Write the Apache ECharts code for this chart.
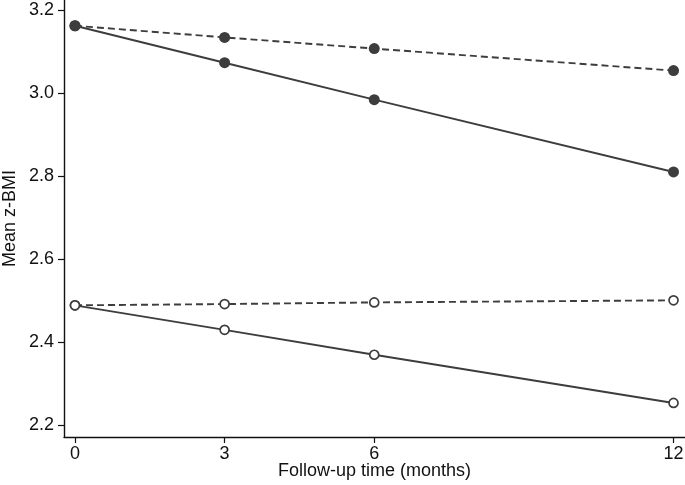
<!DOCTYPE html>
<html><head><meta charset="utf-8">
<script src="https://cdn.jsdelivr.net/npm/echarts@6/dist/echarts.min.js"></script>
<style>html,body{margin:0;padding:0;background:#fff}#c{width:685px;height:485px}</style>
</head><body><div id="c"></div>
<script>
const months = [0, 3, 6, 12];
const xTicks = [0, 3, 6, 12];
const yTicks = [2.2, 2.4, 2.6, 2.8, 3.0, 3.2];
const filledSolid = [3.162, 3.073, 2.984, 2.810];
const filledDashed = [3.162, 3.134, 3.107, 3.054];
const hollowSolid = [2.489, 2.430, 2.370, 2.254];
const hollowDashed = [2.489, 2.492, 2.496, 2.501];

const col = '#3d3d3d';
const font = '"Liberation Sans", Arial, Helvetica, sans-serif';
function mk(vals, dashed, filled) {
  return {
    type: 'line',
    data: months.map((m, i) => [m, vals[i]]),
    symbol: 'circle',
    symbolSize: filled ? 11 : 9,
    showSymbol: true,
    animation: false,
    lineStyle: { color: col, width: 1.9, type: dashed ? [7, 4] : 'solid' },
    itemStyle: filled ? { color: col, borderWidth: 0 } : { color: '#fff', borderColor: col, borderWidth: 1.7 },
    z: dashed ? 2 : 3
  };
}
const chart = echarts.init(document.getElementById('c'));
chart.setOption({
  backgroundColor: '#fff',
  animation: false,
  grid: { left: 64, right: 0, top: 0, bottom: 48, containLabel: false, outerBoundsMode: 'none' },
  xAxis: {
    type: 'value', min: -0.22, max: 12.23,
    name: 'Follow-up time (months)', nameLocation: 'middle', nameGap: 25, nameMoveOverlap: false,
    nameTextStyle: { fontFamily: font, fontSize: 18, color: '#111' },
    splitLine: { show: false },
    axisLine: { show: true, onZero: false, lineStyle: { color: '#111', width: 1.4 } },
    axisTick: { show: true, customValues: xTicks, length: 6, lineStyle: { color: '#111', width: 1.2 } },
    axisLabel: { customValues: xTicks, fontFamily: font, fontSize: 18, color: '#111', margin: 8 }
  },
  yAxis: {
    type: 'value', min: 2.172, max: 3.224,
    name: 'Mean z-BMI', nameLocation: 'middle', nameGap: 45, nameMoveOverlap: false,
    nameTextStyle: { fontFamily: font, fontSize: 18, color: '#111' },
    splitLine: { show: false },
    axisLine: { show: true, onZero: false, lineStyle: { color: '#111', width: 1.4 } },
    axisTick: { show: true, customValues: yTicks, length: 6, lineStyle: { color: '#111', width: 1.2 } },
    axisLabel: { customValues: yTicks, fontFamily: font, fontSize: 18, color: '#111', margin: 10,
      formatter: v => v.toFixed(1) }
  },
  series: [mk(filledDashed, true, true), mk(filledSolid, false, true), mk(hollowDashed, true, false), mk(hollowSolid, false, false)]
});
</script></body></html>
